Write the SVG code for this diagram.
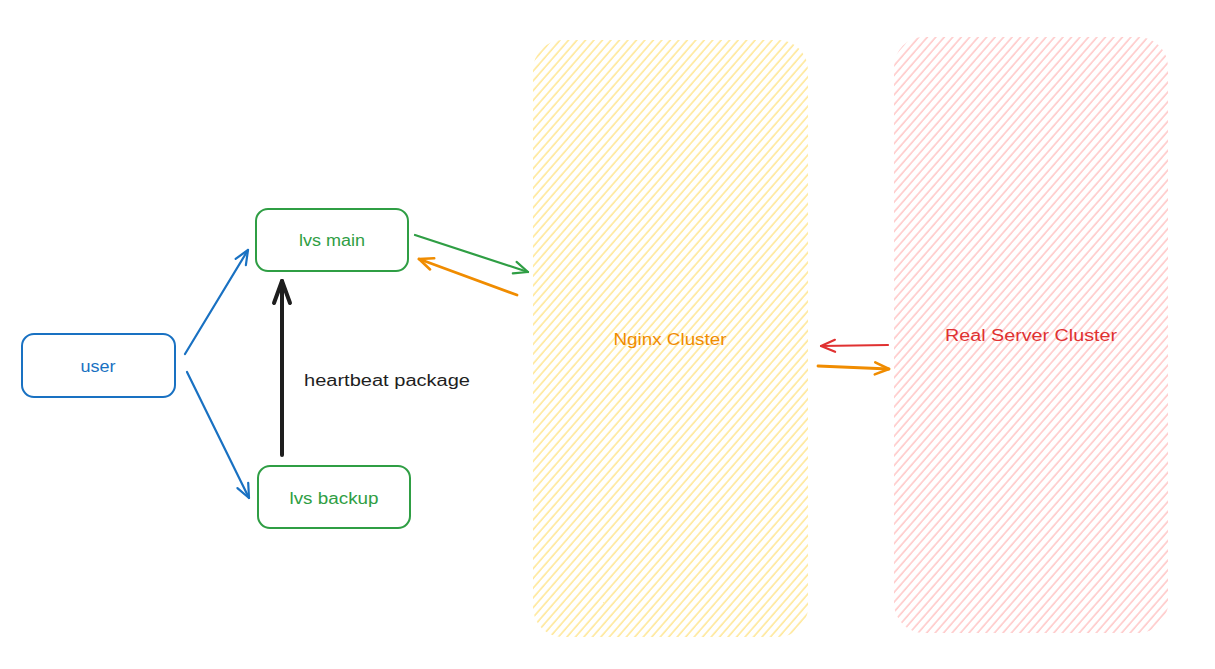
<svg xmlns="http://www.w3.org/2000/svg" width="1215" height="669" viewBox="0 0 1215 669">
<style>
.node{fill:none;stroke-width:2;stroke-linecap:round}
.lbl{font-family:"Liberation Sans",Arial,sans-serif;font-size:16px;text-anchor:middle;dominant-baseline:central}
.conn{fill:none;stroke-width:2.2;stroke-linecap:round;stroke-linejoin:round}
.thick{stroke-width:2.8}
.heavy{stroke-width:4}
</style>
<defs>
<pattern id="hy" patternUnits="userSpaceOnUse" width="6.4" height="10" patternTransform="rotate(41)">
<line x1="1" y1="0" x2="1" y2="10" stroke="#ffe58a" stroke-width="1.4"/>
</pattern>
<pattern id="hr" patternUnits="userSpaceOnUse" width="6.4" height="10" patternTransform="rotate(41)">
<line x1="1" y1="0" x2="1" y2="10" stroke="#ffc2c2" stroke-width="1.4"/>
</pattern>
<marker id="ab" viewBox="-16 -8 18 16" refX="0" refY="0" markerWidth="18" markerHeight="16" markerUnits="userSpaceOnUse" orient="auto">
<path d="M-14,-6 L0,0 L-14,6" fill="none" stroke="#1971c2" stroke-width="2.2" stroke-linecap="round" stroke-linejoin="round"/>
</marker>
<marker id="ag" viewBox="-16 -8 18 16" refX="0" refY="0" markerWidth="18" markerHeight="16" markerUnits="userSpaceOnUse" orient="auto">
<path d="M-14,-6 L0,0 L-14,6" fill="none" stroke="#2f9e44" stroke-width="2.2" stroke-linecap="round" stroke-linejoin="round"/>
</marker>
<marker id="ao" viewBox="-16 -8 18 16" refX="0" refY="0" markerWidth="18" markerHeight="16" markerUnits="userSpaceOnUse" orient="auto">
<path d="M-14,-6 L0,0 L-14,6" fill="none" stroke="#f08c00" stroke-width="2.6" stroke-linecap="round" stroke-linejoin="round"/>
</marker>
<marker id="ar" viewBox="-16 -8 18 16" refX="0" refY="0" markerWidth="18" markerHeight="16" markerUnits="userSpaceOnUse" orient="auto">
<path d="M-14,-6 L0,0 L-14,6" fill="none" stroke="#e03131" stroke-width="2.2" stroke-linecap="round" stroke-linejoin="round"/>
</marker>
<marker id="ak" viewBox="-26 -12 30 24" refX="0" refY="0" markerWidth="30" markerHeight="24" markerUnits="userSpaceOnUse" orient="auto">
<path d="M-22,-8 L0,0 L-22,8" fill="none" stroke="#1e1e1e" stroke-width="4" stroke-linecap="round" stroke-linejoin="round"/>
</marker>
</defs>
<rect width="1215" height="669" fill="#ffffff"/>

<g id="nginx-cluster">
<rect x="533" y="40" width="275" height="597" rx="30" fill="url(#hy)"/>
<text class="lbl" x="670" y="339" fill="#f08c00" textLength="113" lengthAdjust="spacingAndGlyphs">Nginx Cluster</text>
</g>
<g id="real-server-cluster">
<rect x="894" y="37" width="274" height="596" rx="30" fill="url(#hr)"/>
<text class="lbl" x="1031" y="335" fill="#e03131" textLength="172" lengthAdjust="spacingAndGlyphs">Real Server Cluster</text>
</g>
<g id="user">
<rect class="node" x="22" y="334" width="153" height="63" rx="12" stroke="#1971c2"/>
<text class="lbl" x="98" y="366" fill="#1971c2" textLength="35" lengthAdjust="spacingAndGlyphs">user</text>
</g>
<g id="lvs-main">
<rect class="node" x="256" y="209" width="152" height="62" rx="12" stroke="#2f9e44"/>
<text class="lbl" x="332" y="240" fill="#2f9e44" textLength="66" lengthAdjust="spacingAndGlyphs">lvs main</text>
</g>
<g id="lvs-backup">
<rect class="node" x="258" y="466" width="152" height="62" rx="12" stroke="#2f9e44"/>
<text class="lbl" x="334" y="498" fill="#2f9e44" textLength="89" lengthAdjust="spacingAndGlyphs">lvs backup</text>
</g>

<g id="connectors">
<path class="conn" d="M185,354 L248,250" stroke="#1971c2" marker-end="url(#ab)"/>
<path class="conn" d="M187,372 L249,498" stroke="#1971c2" marker-end="url(#ab)"/>
<path class="conn heavy" d="M282,455 L282,281" stroke="#1e1e1e" marker-end="url(#ak)"/>
<text x="304" y="380" font-family="'Liberation Sans',Arial,sans-serif" font-size="16" fill="#1e1e1e" dominant-baseline="central" textLength="166" lengthAdjust="spacingAndGlyphs">heartbeat package</text>
<path class="conn" d="M415,235 L528,272" stroke="#2f9e44" marker-end="url(#ag)"/>
<path class="conn thick" d="M517,295 L419,259" stroke="#f08c00" marker-end="url(#ao)"/>
<path class="conn" d="M888,345 L821,346" stroke="#e03131" marker-end="url(#ar)"/>
<path class="conn thick" d="M818,366 L889,369" stroke="#f08c00" marker-end="url(#ao)"/>
</g>
</svg>
